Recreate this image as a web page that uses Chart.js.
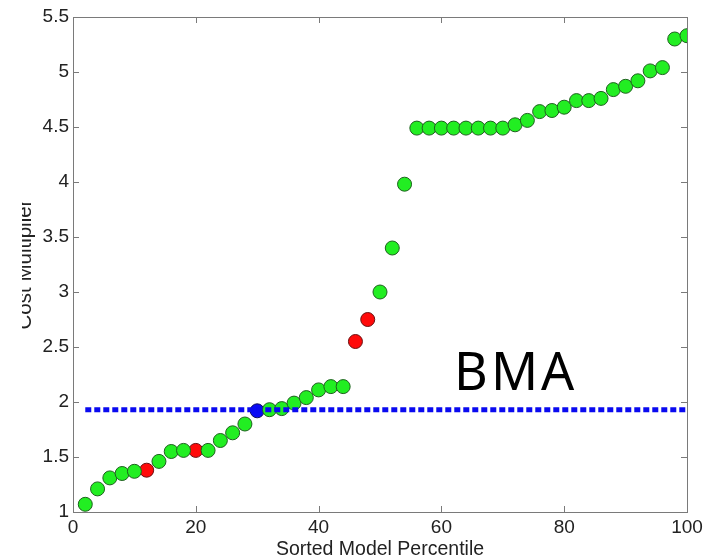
<!DOCTYPE html>
<html lang="en">
<head>
    <meta charset="UTF-8">
    <title>Cost Multiplier</title>
    <script src="https://cdn.jsdelivr.net/npm/chart.js"></script>
    <style>
        body { margin: 0; background: #fff; }
        #chart { display: block; }
    </style>
</head>
<body>
    <canvas id="chart" width="717" height="559"></canvas>

    <script>
        // sorted model percentiles and their cost multipliers
        const percentiles = [2, 4, 6, 8, 10, 12, 14, 16, 18, 20, 22, 24, 26, 28, 30, 32, 34, 36, 38, 40,
                             42, 44, 46, 48, 50, 52, 54, 56, 58, 60, 62, 64, 66, 68, 70, 72, 74, 76, 78, 80,
                             82, 84, 86, 88, 90, 92, 94, 96, 98, 100];
        const costMultiplier = [1.07, 1.21, 1.31, 1.35, 1.37, 1.38, 1.46, 1.55, 1.56, 1.56, 1.56, 1.65, 1.72, 1.80, 1.92, 1.93, 1.94, 1.99, 2.04, 2.11,
                                2.14, 2.14, 2.55, 2.75, 3.00, 3.40, 3.98, 4.49, 4.49, 4.49, 4.49, 4.49, 4.49, 4.49, 4.49, 4.52, 4.56, 4.64, 4.65, 4.68,
                                4.74, 4.74, 4.76, 4.84, 4.87, 4.92, 5.01, 5.04, 5.30, 5.33];
        // which group each model belongs to
        const modelGroup = ['other', 'other', 'other', 'other', 'other', 'flagged', 'other', 'other', 'other', 'flagged',
                            'other', 'other', 'other', 'other', 'bma', 'other', 'other', 'other', 'other', 'other',
                            'other', 'other', 'flagged', 'flagged', 'other', 'other', 'other', 'other', 'other', 'other',
                            'other', 'other', 'other', 'other', 'other', 'other', 'other', 'other', 'other', 'other',
                            'other', 'other', 'other', 'other', 'other', 'other', 'other', 'other', 'other', 'other'];
        const bmaLevel = 1.93;
        const bmaLineX = [2, 100];
        const xTicks = [0, 20, 40, 60, 80, 100];
        const yTicks = [1, 1.5, 2, 2.5, 3, 3.5, 4, 4.5, 5, 5.5];
        const bmaLabel = { text: 'BMA', x: 72.1, y: 2.11 };

        const groupColors = {
            other: { fill: '#22ee22', edge: '#1f5f1f' },
            flagged: { fill: '#ff0a0a', edge: '#6a1010' },
            bma: { fill: '#0a0af5', edge: '#10105a' }
        };
        const frameColor = '#7a7a7a';

        function groupPoints(name) {
            const pts = [];
            percentiles.forEach((p, i) => {
                if (modelGroup[i] === name) pts.push({ x: p, y: costMultiplier[i] });
            });
            return pts;
        }

        const pointSets = ['other', 'flagged', 'bma'].map(name => ({
            type: 'scatter',
            label: name,
            data: groupPoints(name),
            backgroundColor: groupColors[name].fill,
            borderColor: groupColors[name].edge,
            borderWidth: 1,
            pointRadius: 7,
            pointHoverRadius: 7
        }));

        const frame = {
            id: 'frame',
            beforeDatasetsDraw(chart) {
                const { ctx, chartArea: a, scales: { x, y } } = chart;
                ctx.save();
                ctx.strokeStyle = frameColor;
                ctx.lineWidth = 1;
                ctx.strokeRect(a.left + 0.5, a.top + 0.5, a.right - a.left, a.bottom - a.top);
                ctx.beginPath();
                xTicks.forEach(v => {
                    const px = Math.round(x.getPixelForValue(v)) + 0.5;
                    ctx.moveTo(px, a.bottom); ctx.lineTo(px, a.bottom - 6);
                    ctx.moveTo(px, a.top); ctx.lineTo(px, a.top + 6);
                });
                yTicks.forEach(v => {
                    const py = Math.round(y.getPixelForValue(v)) + 0.5;
                    ctx.moveTo(a.left, py); ctx.lineTo(a.left + 6, py);
                    ctx.moveTo(a.right, py); ctx.lineTo(a.right - 6, py);
                });
                ctx.stroke();
                ctx.restore();
            },
            afterDraw(chart) {
                const { ctx, scales: { x, y } } = chart;
                ctx.save();
                ctx.fillStyle = '#000';
                ctx.font = '52px "Noto Sans"';
                ctx.letterSpacing = '3px';
                ctx.textAlign = 'center';
                ctx.textBaseline = 'alphabetic';
                ctx.fillText(bmaLabel.text, x.getPixelForValue(bmaLabel.x), y.getPixelForValue(bmaLabel.y));
                // the original picture is cropped just left of the y title
                ctx.fillStyle = '#fff';
                ctx.fillRect(0, 0, 22, chart.height);
                ctx.restore();
            }
        };

        new Chart(document.getElementById('chart'), {
            data: {
                datasets: [{
                    type: 'line',
                    label: 'BMA',
                    data: bmaLineX.map(v => ({ x: v, y: bmaLevel })),
                    borderColor: '#0a0af0',
                    borderWidth: 5,
                    borderDash: [6, 3],
                    pointRadius: 0,
                    fill: false
                }].concat(pointSets)
            },
            options: {
                responsive: false,
                animation: false,
                layout: { padding: { top: 17, right: 30, left: 0, bottom: 0 } },
                plugins: { legend: { display: false }, tooltip: { enabled: false } },
                scales: {
                    x: {
                        type: 'linear',
                        min: 0,
                        max: 100,
                        afterFit: s => { s.height = 47; },
                        afterBuildTicks: s => { s.ticks = xTicks.map(v => ({ value: v })); },
                        grid: { display: false, drawTicks: false },
                        border: { display: false },
                        ticks: { color: '#222', padding: 4, font: { family: 'Liberation Sans', size: 19 }, maxRotation: 0,
                                 callback: v => String(v) },
                        title: { display: true, text: 'Sorted Model Percentile', color: '#222', padding: { top: 0, bottom: -2 },
                                 font: { family: 'Liberation Sans', size: 19.5 } }
                    },
                    y: {
                        type: 'linear',
                        min: 1,
                        max: 5.5,
                        afterFit: s => { s.width = 73; },
                        afterBuildTicks: s => { s.ticks = yTicks.map(v => ({ value: v })); },
                        grid: { display: false, drawTicks: false },
                        border: { display: false },
                        ticks: { color: '#222', padding: 4, font: { family: 'Liberation Sans', size: 19 },
                                 callback: v => String(v) },
                        title: { display: true, text: 'Cost Multiplier', color: '#222', padding: { top: 13 },
                                 font: { family: 'Liberation Sans', size: 20.5 } }
                    }
                }
            },
            plugins: [frame]
        });
    </script>
</body>
</html>
